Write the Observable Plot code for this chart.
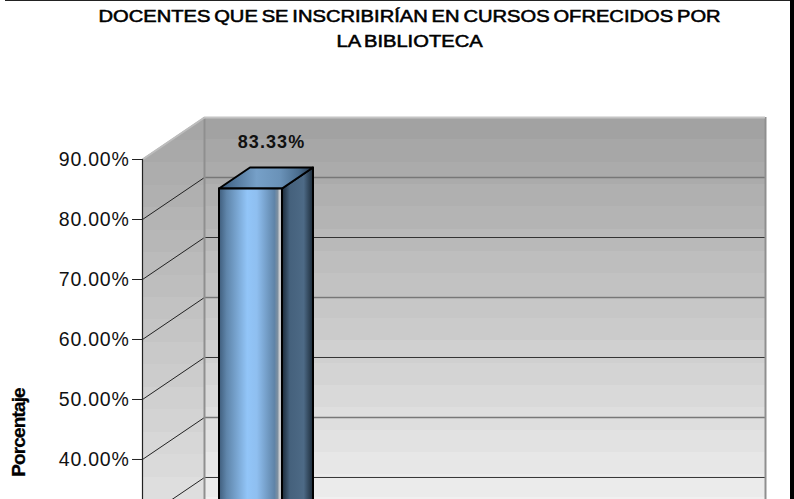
<!DOCTYPE html>
<html><head><meta charset="utf-8">
<script src="https://cdn.jsdelivr.net/npm/d3@7"></script>
<script src="https://cdn.jsdelivr.net/npm/@observablehq/plot@0.6"></script>
<style>
html,body{margin:0;padding:0;background:#fff;overflow:hidden}
#page{width:794px;height:499px;position:relative;overflow:hidden;background:#fff}
#page::before{content:"";position:absolute;left:5px;right:0;top:0;height:1px;background:#222;z-index:2}
#page::after{content:"";position:absolute;right:0;top:0;bottom:0;width:4px;background:#000;z-index:2}
#title{position:absolute;left:0;top:4px;width:820px;text-align:center;font:normal 17px/25px "Liberation Sans",Arial,sans-serif;color:#000;-webkit-text-stroke:.55px #000;word-spacing:-1.5px}
#title span{display:inline-block;transform:scaleX(1.185);white-space:nowrap}
#chart{position:absolute;left:0;top:62px;width:794px}
#chart [aria-label="y-axis tick label"]{letter-spacing:.75px}
#chart .val{letter-spacing:1.1px}
#chart .ylab{letter-spacing:-.85px}
</style></head><body>
<div id="page"><div id="title"><span>DOCENTES QUE SE INSCRIBIRÍAN EN CURSOS OFRECIDOS POR</span><br><span>LA BIBLIOTECA</span></div><div id="chart"></div></div>
<script>
const categories = ["Sí"];
const values = [83.33];
const axisTicks = [40, 50, 60, 70, 80, 90];
const gridLevels = [30, 40, 50, 60, 70, 80];
const yMax = 90;
const yFloor = 0;
const wallWidth = 561;
const depthX = 62;
const depthY = 7;
const barStart = 61.5;
const barWidth = 63;
const barDepthFront = 0.25;
const barDepthBack = 0.75;
const yLabelValue = 44.5;

const px = (u, d) => u + d * depthX;
const py = (v, d) => v + d * depthY;

const bars = categories.map((c, i) => ({c, v: values[i]}));
const v = values[0];

const leftWall = [0, 1].map(d => ({x: px(0, d), y1: py(yFloor, d), y2: py(yMax, d)}));
const sideFace = [barDepthFront, barDepthBack].map(d => ({
  x: px(barStart + barWidth, d), y1: py(yFloor, d), y2: py(v, d)}));

// top face as an x-sorted band: lower edge = front, upper edge = back
const yF = py(v, barDepthFront), yB = py(v, barDepthBack);
const topBand = [
  {x: px(barStart, barDepthFront), y1: yF, y2: yF},
  {x: px(barStart, barDepthBack), y1: yF, y2: yB},
  {x: px(barStart + barWidth, barDepthFront), y1: yF, y2: yB},
  {x: px(barStart + barWidth, barDepthBack), y1: yB, y2: yB}
];

const plot = Plot.plot({
  width: 794, height: 437,
  marginLeft: 142, marginRight: 29, marginTop: 0, marginBottom: 0,
  x: {domain: [0, wallWidth + depthX], axis: null},
  y: {domain: [33.33, 106.17], axis: null},
  style: {fontFamily: '"Liberation Sans",Arial,sans-serif', background: "transparent", overflow: "hidden", maxWidth: "none"},
  marks: [
    Plot.areaY(leftWall, {x: "x", y1: "y1", y2: "y2", fill: "url(#wallL)"}),
    Plot.rect([{}], {x1: depthX, x2: wallWidth + depthX, y1: py(yFloor, 1), y2: py(yMax, 1), fill: "url(#wallB)"}),
    Plot.ruleY(gridLevels, {y: d => py(d, 1), x1: depthX, x2: wallWidth + depthX, stroke: d => d % 20 === 0 ? "#777" : "#333", strokeWidth: d => d % 20 === 0 ? 1.6 : 1}),
    Plot.link(gridLevels, {x1: px(0, 0), x2: px(0, 1), y1: d => py(d, 0), y2: d => py(d, 1), stroke: "#222", strokeWidth: 1}),
    Plot.ruleX([px(0, 1)], {y1: py(yFloor, 1), y2: py(yMax, 1), stroke: "#8f8f8f", strokeWidth: 2}),
    Plot.ruleX([px(wallWidth, 1)], {y1: py(yFloor, 1), y2: py(yMax, 1), stroke: "#8f8f8f", strokeWidth: 2}),
    Plot.ruleY([py(yMax, 1)], {x1: px(0, 1), x2: px(wallWidth, 1), stroke: "#c4c4c4", strokeWidth: 2}),
    Plot.link([yMax], {x1: px(0, 0), x2: px(0, 1), y1: d => py(d, 0), y2: d => py(d, 1), stroke: "#bdbdbd", strokeWidth: 2}),
    Plot.ruleX([px(0, 0)], {y1: py(yFloor, 0), y2: py(yMax, 0), stroke: "#222", strokeWidth: 1.2}),
    // bar
    Plot.areaY(sideFace, {x: "x", y1: "y1", y2: "y2", fill: "url(#barSide)", stroke: "#000", strokeWidth: 2}),
    Plot.areaY(topBand, {x: "x", y1: "y1", y2: "y2", fill: "url(#barTop)", stroke: "#000", strokeWidth: 2}),
    Plot.rect(bars, {x1: px(barStart, barDepthFront), x2: px(barStart + barWidth, barDepthFront), y1: py(yFloor, barDepthFront), y2: d => py(d.v, barDepthFront), fill: "url(#barFront)", stroke: "#000", strokeWidth: 2}),
    Plot.text(bars, {className: "val", x: px(barStart + barWidth / 2, barDepthFront) + 20.5, y: d => py(d.v, barDepthFront) + 7.75, text: d => d.v.toFixed(2) + "%", fontSize: 18, fontWeight: "bold", fill: "#111"}),
    Plot.axisY(axisTicks, {anchor: "left", tickSize: 10, tickPadding: 3, tickFormat: d => d.toFixed(2) + "%", fontSize: 19.5, fill: "#111", stroke: "#222", label: null}),
    Plot.text([{t: "Porcentaje", v: yLabelValue}], {className: "ylab", frameAnchor: "left", textAnchor: "middle", y: "v", text: "t", dx: -124, rotate: -90, fontSize: 19, fontWeight: "bold", fill: "#000", stroke: "#000", strokeWidth: 0.3})
  ]
});

const yS = plot.scale("y");
const defs = d3.select(plot).insert("defs", ":first-child");
function stepped(id, vTop, vBottom, c0, c1, bandPx) {
  const y0 = yS.apply(vTop), y1 = yS.apply(vBottom);
  const g = defs.append("linearGradient").attr("id", id).attr("gradientUnits", "userSpaceOnUse")
    .attr("x1", 0).attr("x2", 0).attr("y1", y0).attr("y2", y1);
  const n = Math.round((y1 - y0) / bandPx);
  const mix = d3.interpolateRgb(c0, c1);
  for (let i = 0; i < n; i++) {
    g.append("stop").attr("offset", i / n).attr("stop-color", mix(i / (n - 1)));
    g.append("stop").attr("offset", (i + 1) / n).attr("stop-color", mix(i / (n - 1)));
  }
}
stepped("wallB", 97, 30, "#a2a2a2", "#f0f0f0", 22);
stepped("wallL", 97, 22, "#a6a6a6", "#e8e8e8", 22);
function hgrad(id, stops) {
  const g = defs.append("linearGradient").attr("id", id).attr("x1", 0).attr("x2", 1).attr("y1", 0).attr("y2", 0);
  for (const [o, c] of stops) g.append("stop").attr("offset", o).attr("stop-color", c);
}
hgrad("barFront", [[0, "#3f5d7c"], [0.12, "#5f85aa"], [0.45, "#92c5f8"], [0.6, "#8fbff0"], [0.88, "#5f84a8"], [0.93, "#7c8fa0"], [0.96, "#c8ccd0"], [1, "#c8ccd0"]]);
hgrad("barSide", [[0, "#1b2a38"], [0.25, "#45617c"], [0.7, "#4d6a86"], [1, "#1b2a38"]]);
hgrad("barTop", [[0, "#39597a"], [0.4, "#76a0c8"], [0.65, "#6a92b8"], [0.85, "#4a6d8e"], [1, "#233345"]]);

document.getElementById("chart").append(plot);
</script></body></html>
